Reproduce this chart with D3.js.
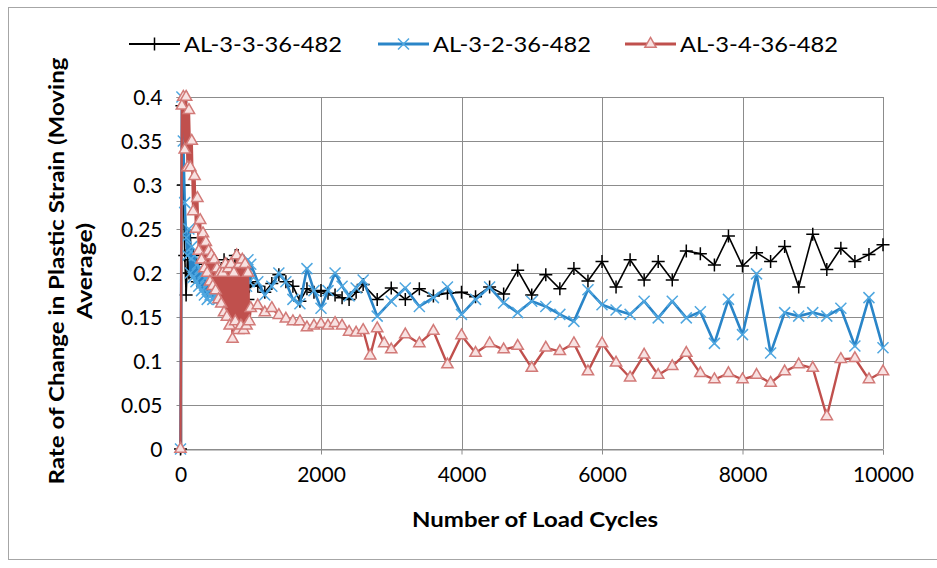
<!DOCTYPE html>
<html><head><meta charset="utf-8">
<script src="https://cdn.jsdelivr.net/npm/d3@7"></script>
<style>
body{margin:0;background:#fff;}
svg{display:block;font-family:Lato,'Open Sans',sans-serif;}
</style>
</head><body>
<svg id="c" width="937" height="568"></svg>
<script>
const seriesNames = ["AL-3-3-36-482","AL-3-2-36-482","AL-3-4-36-482"];
const xTicks = [0,2000,4000,6000,8000,10000];
const yTicks = [0,0.05,0.1,0.15,0.2,0.25,0.3,0.35,0.4];
const yTickLabels = ["0","0.05","0.1","0.15","0.2","0.25","0.3","0.35","0.4"];
const xTitle = "Number of Load Cycles";
const yTitle = ["Rate of Change in Plastic Strain (Moving","Average)"];

const cyclesEarly = [0,20,40,60,80,100,120,140,160,180,200,220,240,260,280,300,320,340,360,380,400,420,440,460,480,500,520,540,560,580,600,620,640,660,680,700,720,740,760,780,800,820,840,860,880,900,920,940,960,980,1000];
const cyclesMid = [1100,1200,1300,1400,1500,1600,1700,1800,1900,2000,2100,2200,2300,2400,2500,2600,2700,2800,2900,3000];
const cyclesLate = [3200,3400,3600,3800,4000,4200,4400,4600,4800,5000,5200,5400,5600,5800,6000,6200,6400,6600,6800,7000,7200,7400,7600,7800,8000,8200,8400,8600,8800,9000,9200,9400,9600,9800,10000];

const blackEarly = [0,0.39,0.3,0.22,0.175,0.215,0.2,0.24,0.205,0.22,0.195,0.21,0.19,0.205,0.19,0.2,0.185,0.2,0.185,0.195,0.18,0.2,0.185,0.195,0.18,0.19,0.18,0.2,0.175,0.205,0.19,0.215,0.185,0.21,0.18,0.2,0.175,0.21,0.19,0.22,0.195,0.22,0.185,0.2,0.17,0.195,0.165,0.19,0.17,0.185,0.19];
const blackMid = [0.185,0.178,0.188,0.198,0.19,0.185,0.168,0.182,0.178,0.18,0.177,0.175,0.172,0.17,0.178,0.187,null,0.17,null,0.183];
const blackLate = [0.170,0.182,0.174,0.177,0.178,0.173,0.184,0.176,0.203,0.175,0.198,0.182,0.205,0.191,0.213,0.184,0.215,0.192,0.213,0.192,0.225,0.222,0.209,0.242,0.208,0.223,0.213,0.230,0.184,0.244,0.204,0.228,0.213,0.221,0.232];

const blueEarly = [0,0.4,0.35,0.28,0.24,0.22,0.25,0.2,0.23,0.195,0.22,0.19,0.21,0.185,0.205,0.18,0.2,0.175,0.195,0.17,0.19,0.175,0.195,0.17,0.185,0.175,0.19,0.17,0.195,0.175,0.2,0.17,0.19,0.175,0.2,0.165,0.195,0.17,0.2,0.175,0.205,0.17,0.2,0.18,0.21,0.175,0.205,0.185,0.215,0.19,0.21];
const blueMid = [0.19,0.175,0.185,0.2,0.19,0.17,0.165,0.205,0.18,0.16,0.18,0.2,0.185,0.174,0.183,0.192,null,0.151,null,0.168];
const blueLate = [0.183,0.162,0.172,0.184,0.153,0.170,0.184,0.166,0.155,0.168,0.162,0.153,0.145,0.181,0.164,0.158,0.153,0.168,0.149,0.168,0.149,0.156,0.120,0.170,0.130,0.199,0.109,0.155,0.151,0.155,0.151,0.160,0.117,0.172,0.115];

const redEarly = [0,0.39,0.4,0.34,0.4,0.32,0.385,0.32,0.35,0.27,0.31,0.25,0.285,0.225,0.26,0.215,0.245,0.205,0.235,0.2,0.225,0.19,0.22,0.185,0.215,0.18,0.205,0.17,0.2,0.165,0.2,0.155,0.21,0.15,0.205,0.14,0.21,0.125,0.2,0.145,0.22,0.135,0.21,0.14,0.215,0.135,0.21,0.14,0.2,0.145,0.16];
const redMid = [0.163,0.155,0.16,0.152,0.148,0.145,0.145,0.138,0.14,0.142,0.14,0.143,0.14,0.133,0.132,0.135,0.106,0.137,0.12,0.113];
const redLate = [0.130,0.120,0.134,0.096,0.129,0.109,0.120,0.113,0.117,0.092,0.115,0.111,0.120,0.088,0.120,0.098,0.081,0.107,0.084,0.094,0.109,0.086,0.079,0.086,0.079,0.084,0.075,0.088,0.096,0.092,0.037,0.102,0.103,0.079,0.088];

const cycles = cyclesEarly.concat(cyclesMid, cyclesLate);
const seriesValues = [
  blackEarly.concat(blackMid, blackLate),
  blueEarly.concat(blueMid, blueLate),
  redEarly.concat(redMid, redLate)
];

const styles = [
  {line:"#000000", lw:1.6, mk:"#000000", fill:"none", sym:"plus"},
  {line:"#2a85c8", lw:2.6, mk:"#4fa7e0", fill:"none", sym:"x"},
  {line:"#c0504d", lw:2.4, mk:"#d27a78", fill:"#f8e2e2", sym:"tri"}
];

const svg = d3.select("#c");
const M = {left:180.5, right:883, top:97, bottom:449};

svg.append("rect").attr("x",8.5).attr("y",7.5).attr("width",960).attr("height",552)
  .attr("fill","#fff").attr("stroke","#a6a6a6").attr("stroke-width",1);

const x = d3.scaleLinear().domain([0,10000]).range([M.left,M.right]);
const y = d3.scaleLinear().domain([0,0.4]).range([M.bottom,M.top]);

const grid = svg.append("g");
grid.selectAll("line.h").data(yTicks).join("line")
  .attr("x1",M.left).attr("x2",M.right)
  .attr("y1",d=>Math.round(y(d))+0.5).attr("y2",d=>Math.round(y(d))+0.5)
  .attr("stroke","#8c8c8c").attr("stroke-width",1);
grid.selectAll("line.v").data(xTicks).join("line")
  .attr("y1",M.top).attr("y2",M.bottom)
  .attr("x1",d=>Math.round(x(d))+0.5).attr("x2",d=>Math.round(x(d))+0.5)
  .attr("stroke","#8c8c8c").attr("stroke-width",1);

const yAxis = svg.append("g").attr("transform",`translate(${Math.round(M.left)+0.5},0)`)
  .call(d3.axisLeft(y).tickValues(yTicks).tickFormat((d,i)=>yTickLabels[i]).tickSize(5).tickPadding(14));
const xAxis = svg.append("g").attr("transform",`translate(0,${Math.round(M.bottom)+0.5})`)
  .call(d3.axisBottom(x).tickValues(xTicks).tickFormat(d3.format("d")).tickSize(5).tickPadding(12));
[yAxis,xAxis].forEach(a=>{
  a.select(".domain").attr("stroke","#8c8c8c");
  a.selectAll(".tick line").attr("stroke","#8c8c8c");
  a.selectAll(".tick text").attr("fill","#000").style("font-family","Lato,sans-serif").style("font-size","21px");
});
yAxis.selectAll(".tick text").attr("dy","0.35em");
xAxis.selectAll(".tick text").attr("dy","0.75em");

function markerPath(sym){
  if(sym==="plus") return "M-6.5,0H6.5M0,-6.5V6.5";
  if(sym==="x") return "M-5.5,-5.5L5.5,5.5M-5.5,5.5L5.5,-5.5";
  return d3.symbol().type(d3.symbolTriangle).size(55)();
}

const line = d3.line().x(d=>x(d[0])).y(d=>y(d[1]));

seriesValues.forEach((vals,si)=>{
  const st = styles[si];
  const pts = cycles.map((c,i)=>[c,vals[i]]).filter(p=>p[1]!==null);
  const g = svg.append("g");
  g.append("path").datum(pts).attr("d",line).attr("fill","none")
    .attr("stroke",st.line).attr("stroke-width",st.lw).attr("stroke-linejoin","round");
  g.selectAll("path.m").data(pts).join("path").attr("class","m")
    .attr("d",markerPath(st.sym))
    .attr("transform",d=>`translate(${x(d[0])},${y(d[1])})`)
    .attr("fill",st.fill).attr("stroke",st.mk).attr("stroke-width",1.5);
});

const legendX = [129,378,625];
const legendY = 44;
seriesNames.forEach((n,i)=>{
  const st = styles[i];
  const g = svg.append("g");
  g.append("line").attr("x1",legendX[i]).attr("x2",legendX[i]+51)
    .attr("y1",legendY).attr("y2",legendY).attr("stroke",st.line).attr("stroke-width",st.lw+0.6);
  g.append("path").attr("d",markerPath(st.sym))
    .attr("transform",`translate(${legendX[i]+25.5},${legendY})`)
    .attr("fill",st.fill).attr("stroke",st.mk).attr("stroke-width",1.5);
  g.append("text").attr("x",legendX[i]+55).attr("y",legendY).attr("dy","0.36em")
    .attr("textLength",158).attr("lengthAdjust","spacingAndGlyphs")
    .style("font-size","22px").attr("fill","#000").text(n);
});

svg.append("text").attr("x",535).attr("y",527).attr("text-anchor","middle")
  .attr("textLength",246).attr("lengthAdjust","spacingAndGlyphs")
  .style("font-size","21px").style("font-weight","bold").text(xTitle);
const yt = svg.append("g").attr("transform","translate(57,271) rotate(-90)");
yt.append("text").attr("x",0).attr("y",0).attr("dy","0.35em").attr("text-anchor","middle")
  .attr("textLength",427).attr("lengthAdjust","spacingAndGlyphs")
  .style("font-size","21px").style("font-weight","bold").text(yTitle[0]);
yt.append("text").attr("x",0).attr("y",28).attr("dy","0.35em").attr("text-anchor","middle")
  .attr("textLength",96).attr("lengthAdjust","spacingAndGlyphs")
  .style("font-size","21px").style("font-weight","bold").text(yTitle[1]);
</script>
</body></html>
